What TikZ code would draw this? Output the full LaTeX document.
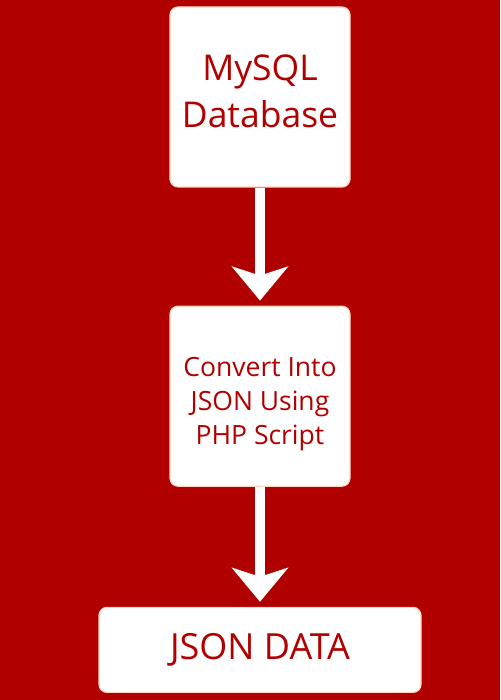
\documentclass[tikz,border=0pt]{standalone}
\usepackage{fontspec}
\setmainfont{Open Sans}
\usetikzlibrary{positioning,arrows.meta}
\definecolor{darkred}{RGB}{176,0,0}
\definecolor{glow}{RGB}{255,214,190}
\begin{document}
\begin{tikzpicture}[x=1pt,y=1pt,
				box/.style={rectangle,rounded corners=8pt,fill=white,draw=glow,line width=1.2pt,
					inner sep=0pt},
				bigbox/.style={box,minimum width=180pt,minimum height=180pt},
				boxtext/.style={text=darkred,align=center,inner sep=0pt},
				flow/.style={draw=white,line width=10pt,shorten >=5pt,
					-{Stealth[length=34pt,width=56pt,inset=9pt]}}]
\fill[darkred] (0,0) rectangle (500,700);
\useasboundingbox (0,0) rectangle (500,700);
\node[bigbox] (mysql) at (260,603) {};
\node[bigbox,below=118pt of mysql] (convert) {};
\node[box,below=120pt of convert,minimum width=322pt,minimum height=85pt] (json) {};
% texts
\node[boxtext,font=\fontsize{35.5}{47}\selectfont] (mysqltext) at ([yshift=6pt]mysql.center) {MySQL\\Database};
\node[boxtext,font=\fontsize{26.5}{34}\selectfont] (converttext) at ([yshift=-8pt]convert.center) {Convert Into\\JSON Using\\PHP Script};
\node[boxtext,font=\fontsize{36}{44}\selectfont] (jsontext) at (json.center) {JSON DATA};
\draw[flow] (mysql) -- (convert);
\draw[flow] (convert) -- (json);
\end{tikzpicture}
\end{document}
